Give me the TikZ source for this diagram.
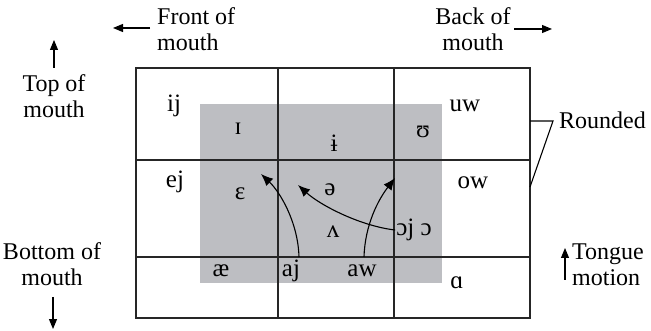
\documentclass[tikz,border=0pt]{standalone}
\usepackage{fontspec}
\setmainfont{Liberation Serif}
\usetikzlibrary{arrows.meta}
\definecolor{laxgray}{RGB}{189,190,194}
\begin{document}
\begin{tikzpicture}[x=1pt,y=-1pt,
  lbl/.style={font=\fontsize{24}{26}\selectfont, inner sep=0pt},
  ipa/.style={font=\fontsize{25}{26}\selectfont, inner sep=0pt},
  gridline/.style={line width=1.1pt, draw=black!85},
  sidearrow/.style={-{Triangle[length=10pt,width=8pt]}, line width=1.1pt},
  curvearrow/.style={-{Latex[length=12pt,width=10pt]}, line width=1.1pt}]
\useasboundingbox (0,0) rectangle (651,331);
% lax region
\fill[laxgray] (200,104) rectangle (442,283);
% grid
\draw[gridline] (136,68) rectangle (530,318);
\draw[gridline] (278,68) -- (278,318);
\draw[gridline] (394,68) -- (394,318);
\draw[gridline] (136,160) -- (530,160);
\draw[gridline] (136,257) -- (530,257);
% outside labels
\node[lbl, align=left, anchor=west] (front) at (157,29) {Front of\\mouth};
\node[lbl, align=center] (back) at (473,29) {Back of\\mouth};
\node[lbl, align=center] (top) at (54,96) {Top of\\mouth};
\node[lbl, align=center] (bottom) at (52,264) {Bottom of\\mouth};
\node[lbl, align=left, anchor=west] (tongue) at (572,265) {Tongue\\motion};
\node[lbl, anchor=west] (rounded) at (559,120) {Rounded};
% side arrows
\coordinate (fs) at (150,28); \coordinate (fe) at (113,28);
\coordinate (bs) at (514,29); \coordinate (be) at (552,29);
\coordinate (ts) at (54,68);  \coordinate (te) at (54,40);
\coordinate (ds) at (53,297); \coordinate (de) at (53,329);
\coordinate (gs) at (565,280); \coordinate (ge) at (565,248);
\draw[sidearrow] (fs) -- (fe);
\draw[sidearrow] (bs) -- (be);
\draw[sidearrow] (ts) -- (te);
\draw[sidearrow] (ds) -- (de);
\draw[sidearrow] (gs) -- (ge);
% rounded bracket
\coordinate (r1) at (530,121); \coordinate (r2) at (553,121); \coordinate (r3) at (530,187);
\draw[line width=1.1pt] (r1) -- (r2) -- (r3);
% vowels
\node[ipa] (ij) at (174,106) {ij};
\node[ipa] (I) at (238,129) {ɪ};
\node[ipa] (ibar) at (334,143) {ɨ};
\node[ipa] (U) at (423,132) {ʊ};
\node[ipa] (uw) at (465,106) {uw};
\node[ipa] (ej) at (175,182) {ej};
\node[ipa] (E) at (240,194) {ɛ};
\node[ipa] (schwa) at (330,190) {ə};
\node[ipa] (ow) at (473,183) {ow};
\node[ipa] (V) at (333,232) {ʌ};
\node[ipa] (oj) at (414,230) {ɔj ɔ};
\node[ipa] (ae) at (221,271) {æ};
\node[ipa] (aj) at (291,271) {aj};
\node[ipa] (aw) at (362,271) {aw};
\node[ipa] (a) at (457,283) {ɑ};
% diphthong arrows
\coordinate (ajs) at (299,257);
\coordinate (aws) at (364,257);
\coordinate (aje) at (261,174);
\coordinate (oje) at (298,185);
\coordinate (awe) at (395,178);
\draw[curvearrow] (ajs) .. controls (298,222) and (280,192) .. (aje);
\draw[curvearrow] (oj.west) ++(-1,0) .. controls (360,226) and (320,205) .. (oje);
\draw[curvearrow] (aws) .. controls (365,225) and (378,200) .. (awe);
\end{tikzpicture}
\end{document}
